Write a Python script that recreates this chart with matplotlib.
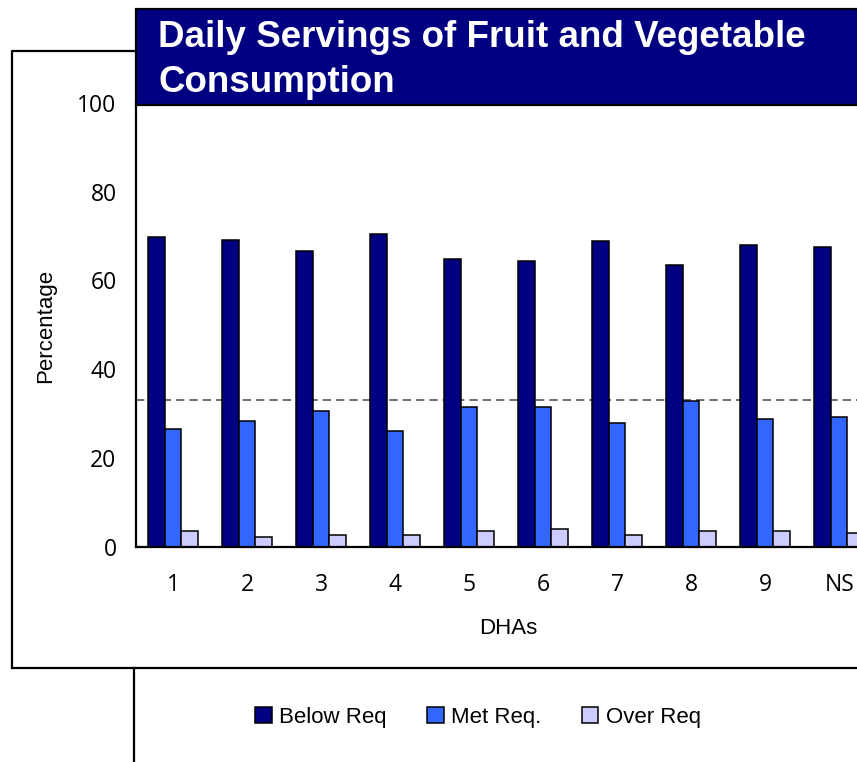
import numpy as np
import matplotlib.pyplot as plt
from matplotlib.patches import Rectangle
from matplotlib.lines import Line2D

dhas = ['1', '2', '3', '4', '5', '6', '7', '8', '9', 'NS']
below_req = [69.7, 69.2, 66.6, 70.5, 64.8, 64.3, 68.8, 63.5, 67.9, 67.5]
met_req = [26.5, 28.3, 30.6, 26.0, 31.5, 31.5, 27.9, 32.9, 28.7, 29.2]
over_req = [3.5, 2.2, 2.7, 2.7, 3.5, 3.9, 2.7, 3.5, 3.5, 3.0]
ref_line = 33.0

W, H = 857, 762
fig = plt.figure(figsize=(W / 100, H / 100), dpi=100)

# outer frame and legend frame, drawn in pixel terms of the figure
fig.add_artist(Line2D([12 / W, 12 / W, 136 / W], [1 - 668 / H, 1 - 51 / H, 1 - 51 / H],
                      color='black', lw=1.6, transform=fig.transFigure))
fig.add_artist(Line2D([12 / W, 1.0], [1 - 668 / H, 1 - 668 / H],
                      color='black', lw=1.6, transform=fig.transFigure))
fig.add_artist(Line2D([134 / W, 134 / W], [0, 1 - 668 / H],
                      color='black', lw=1.6, transform=fig.transFigure))

ax = fig.add_axes([136 / W, 1 - 546.5 / H, 1 - 136 / W, (546.5 - 103) / H])

x = np.arange(len(dhas))
w = 0.223
ax.bar(x - w, below_req, w, color='#000080', edgecolor='black', lw=1.1, label='Below Req')
ax.bar(x, met_req, w, color='#3366FF', edgecolor='black', lw=1.1, label='Met Req.')
ax.bar(x + w, over_req, w, color='#CCCCFF', edgecolor='black', lw=1.1, label='Over Req')
ax.axhline(ref_line, color='#555555', ls=(0, (5, 3)), lw=1.2, zorder=0, clip_on=False)

ax.set_xlim(-0.5, 9.24)
ax.set_ylim(0, 100)
ax.set_yticks(range(0, 101, 20))
ax.set_xticks(x)
ax.set_xticklabels(dhas)
ax.tick_params(length=0, labelsize=16.5)
ax.tick_params(axis='y', pad=14)
ax.tick_params(axis='x', pad=19)
for lab in ax.get_xticklabels() + ax.get_yticklabels():
    lab.set_fontfamily('Open Sans')
for s in ['top', 'right']:
    ax.spines[s].set_visible(False)
for s in ['left', 'bottom']:
    ax.spines[s].set_linewidth(1.6)

fig.text(46 / W, 1 - 326 / H, 'Percentage', rotation=90, ha='center', va='center',
         fontsize=16, family='Liberation Sans')
fig.text(508 / W, 1 - 628 / H, 'DHAs', ha='center', va='center',
         fontsize=16, family='Liberation Sans')

# title banner
fig.add_artist(Rectangle((136 / W, 1 - 105 / H), 1.0, 96 / H, transform=fig.transFigure,
                         facecolor='#000080', edgecolor='black', lw=1.6, zorder=3))
fig.text(158 / W, 1 - 60 / H, 'Daily Servings of Fruit and Vegetable\nConsumption',
         color='white', fontsize=26.5, fontweight='bold', family='Liberation Sans',
         ha='left', va='center', linespacing=1.38, zorder=4)

fig.legend(loc='center', bbox_to_anchor=(478 / W, 1 - 717 / H), ncol=3, frameon=False,
           prop={'family': 'Liberation Sans', 'size': 16}, handlelength=0.75,
           handleheight=0.75, handletextpad=0.35, columnspacing=1.8)

fig.savefig('out.png', dpi=100)
